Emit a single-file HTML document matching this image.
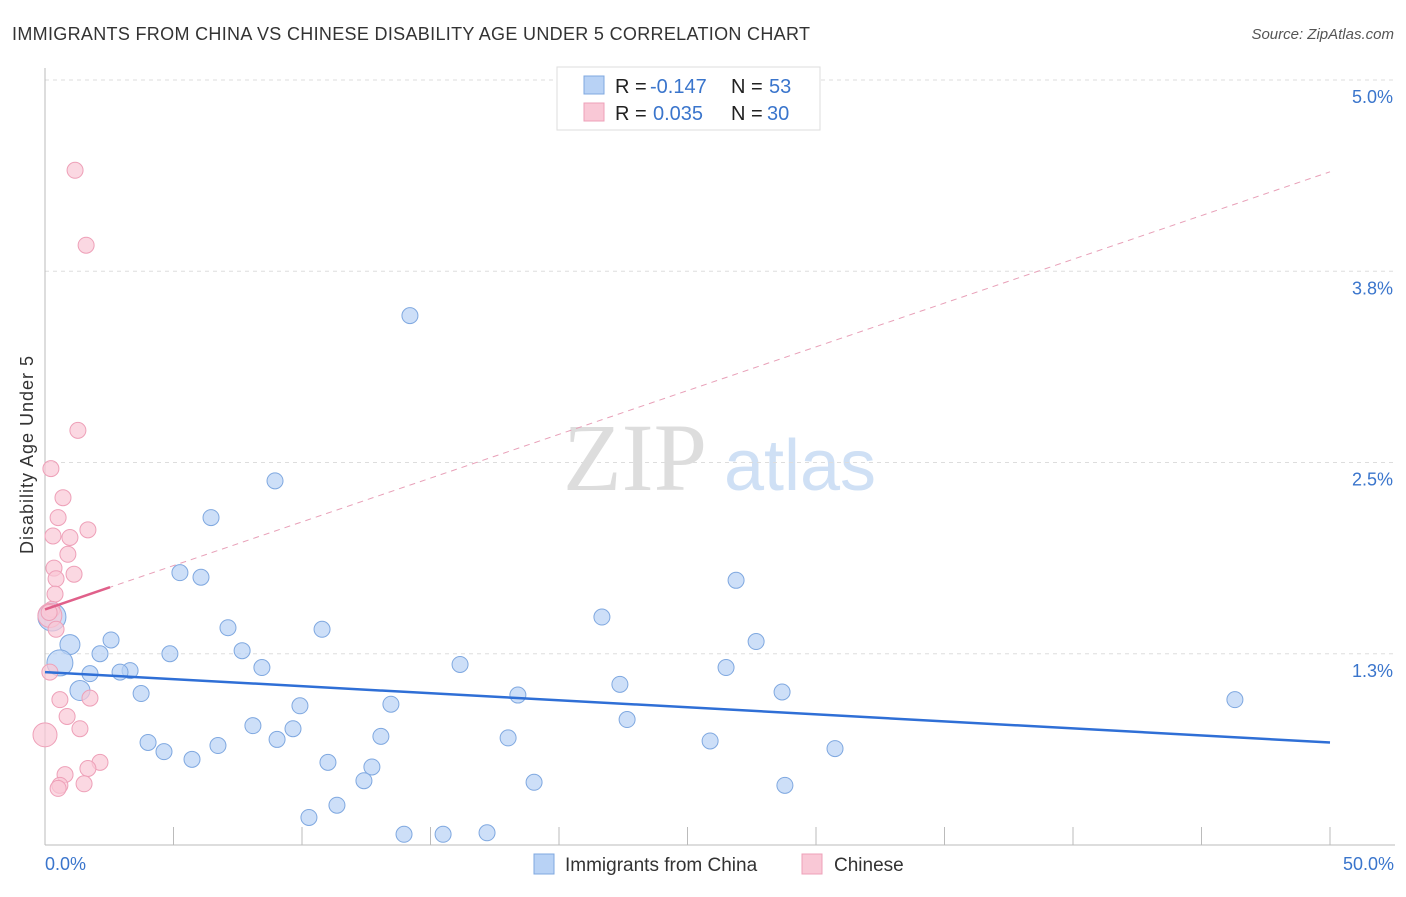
<!DOCTYPE html>
<html><head><meta charset="utf-8"><style>
body{margin:0;background:#fff;font-family:"Liberation Sans",sans-serif}
</style></head><body>
<svg id="c" width="1406" height="892" xmlns="http://www.w3.org/2000/svg" style="font-family:'Liberation Sans',sans-serif">
<text x="12" y="40" font-size="18" fill="#333" textLength="798" lengthAdjust="spacing">IMMIGRANTS FROM CHINA VS CHINESE DISABILITY AGE UNDER 5 CORRELATION CHART</text>
<text x="1394" y="39" font-size="15" fill="#555" font-style="italic" text-anchor="end">Source: ZipAtlas.com</text>
<text x="635" y="490" font-size="96" fill="#ddd" font-family="Liberation Serif,serif" text-anchor="middle">ZIP</text>
<text x="800" y="490" font-size="72" fill="#cfe0f5" text-anchor="middle">atlas</text>
<text transform="translate(33,455) rotate(-90)" font-size="18" fill="#333" text-anchor="middle" textLength="198">Disability Age Under 5</text>
<g id="grid"></g><g id="pts"></g><g id="trend"></g>
<g>
<rect x="557" y="67" width="263" height="63" fill="#fff" stroke="#ddd"/>
<rect x="584" y="76" width="20" height="18" fill="#b8d2f5" stroke="#7fa8e0"/>
<rect x="584" y="103" width="20" height="18" fill="#f9c8d6" stroke="#eea0b8"/>
<text x="615" y="93" font-size="20" fill="#222">R =</text>
<text x="650" y="93" font-size="20" fill="#3a75cc">-0.147</text>
<text x="731" y="93" font-size="20" fill="#222">N =</text>
<text x="769" y="93" font-size="20" fill="#3a75cc">53</text>
<text x="615" y="120" font-size="20" fill="#222">R =</text>
<text x="653" y="120" font-size="20" fill="#3a75cc">0.035</text>
<text x="731" y="120" font-size="20" fill="#222">N =</text>
<text x="767" y="120" font-size="20" fill="#3a75cc">30</text>
</g>
<g>
<rect x="534" y="854" width="20" height="20" fill="#b8d2f5" stroke="#7fa8e0"/>
<text x="565" y="871" font-size="19" fill="#333">Immigrants from China</text>
<rect x="802" y="854" width="20" height="20" fill="#f9c8d6" stroke="#eea0b8"/>
<text x="834" y="871" font-size="19" fill="#333">Chinese</text>
</g>
</svg>
<script>
const yTicks=[5.0,3.75,2.5,1.25];
const yTickLabels=["5.0%","3.8%","2.5%","1.3%"];
const xTicks=[0,5,10,15,20,25,30,35,40,45,50];
const blueX=[14.20,8.95,6.46,5.25,6.07,26.89,21.67,7.12,10.78,2.57,27.67,0.97,7.67,4.86,2.14,0.58,16.15,8.44,26.50,3.31,2.92,1.75,22.37,1.36,28.68,3.74,18.40,46.30,13.46,9.92,22.65,8.09,9.65,13.07,18.02,4.01,9.03,25.88,6.73,4.63,30.74,5.72,11.01,12.72,12.41,19.03,28.79,11.36,10.27,13.97,15.49,17.20,0.27];
const blueY=[3.46,2.38,2.14,1.78,1.75,1.73,1.49,1.42,1.41,1.34,1.33,1.31,1.27,1.25,1.25,1.19,1.18,1.16,1.16,1.14,1.13,1.12,1.05,1.01,1.00,0.99,0.98,0.95,0.92,0.91,0.82,0.78,0.76,0.71,0.70,0.67,0.69,0.68,0.65,0.61,0.63,0.56,0.54,0.51,0.42,0.41,0.39,0.26,0.18,0.07,0.07,0.08,1.49];
const blueR=[8,8,8,8,8,8,8,8,8,8,8,10,8,8,8,13,8,8,8,8,8,8,8,10,8,8,8,8,8,8,8,8,8,8,8,8,8,8,8,8,8,8,8,8,8,8,8,8,8,8,8,8,14];
const pinkX=[1.17,1.60,1.28,0.23,0.70,0.51,1.67,0.31,0.97,0.89,0.35,1.13,0.43,0.39,0.27,0.19,0.43,0.19,0.58,1.75,0.86,1.36,0,2.14,1.67,0.78,0.58,1.52,0.51,0.16];
const pinkY=[4.41,3.92,2.71,2.46,2.27,2.14,2.06,2.02,2.01,1.90,1.81,1.77,1.74,1.64,1.54,1.50,1.41,1.13,0.95,0.96,0.84,0.76,0.72,0.54,0.50,0.46,0.39,0.40,0.37,1.52];
const pinkR=[8,8,8,8,8,8,8,8,8,8,8,8,8,8,8,12,8,8,8,8,8,8,12,8,8,8,8,8,8,8];
const blueTrend=[1.13,0.67];
const pinkTrend=[1.54,4.40];
const X=v=>45+v*25.7, Y=v=>845-v*153;
const NS="http://www.w3.org/2000/svg";
function mk(p,t,a){const e=document.createElementNS(NS,t);for(const k in a)e.setAttribute(k,a[k]);p.appendChild(e);return e;}
const g=document.getElementById('grid');
yTicks.forEach((t,i)=>{
 const l=mk(g,'line',{x1:45,x2:1395,y1:Y(t),y2:Y(t),stroke:'#ddd','stroke-dasharray':'4,4'});
 
 
 const tx=mk(g,'text',{x:1393,y:Y(t)+23,'font-size':18,fill:'#3a75cc','text-anchor':'end'});tx.textContent=yTickLabels[i];
 
 
});
const ax=mk(g,'line',{x1:45,x2:45,y1:68,y2:845,stroke:'#bbb'});


const bx=mk(g,'line',{x1:45,x2:1395,y1:845,y2:845,stroke:'#bbb'});


xTicks.forEach(t=>{const l=mk(g,'line',{x1:X(t),x2:X(t),y1:827,y2:845,stroke:'#bbb'});
 
 });
[["0.0%",45,'start'],["50.0%",1394,'end']].forEach(a=>{const t=mk(g,'text',{x:a[1],y:870,'font-size':18,fill:'#3a75cc','text-anchor':a[2]});t.textContent=a[0];
 
 });
const p=document.getElementById('pts');
blueX.forEach((v,i)=>{const c=mk(p,'circle',{cx:X(v),cy:Y(blueY[i]),r:blueR[i],fill:'#b8d2f5','fill-opacity':0.7,stroke:'#7fa8e0'});
 
 });
pinkX.forEach((v,i)=>{const c=mk(p,'circle',{cx:X(v),cy:Y(pinkY[i]),r:pinkR[i],fill:'#f9c8d6','fill-opacity':0.7,stroke:'#eea0b8'});
 
 });
const tr=document.getElementById('trend');
const b=mk(tr,'line',{x1:X(0),y1:Y(blueTrend[0]),x2:X(50),y2:Y(blueTrend[1]),stroke:'#2f6fd6','stroke-width':2.5});


const pd=mk(tr,'line',{x1:X(0),y1:Y(pinkTrend[0]),x2:X(50),y2:Y(pinkTrend[1]),stroke:'#e8a0b8','stroke-width':1,'stroke-dasharray':'6,5'});


const s=(pinkTrend[1]-pinkTrend[0])/50;
const ps=mk(tr,'line',{x1:X(0),y1:Y(pinkTrend[0]),x2:X(2.53),y2:Y(pinkTrend[0]+s*2.53),stroke:'#e0608a','stroke-width':2.5});


</script>
</body></html>
